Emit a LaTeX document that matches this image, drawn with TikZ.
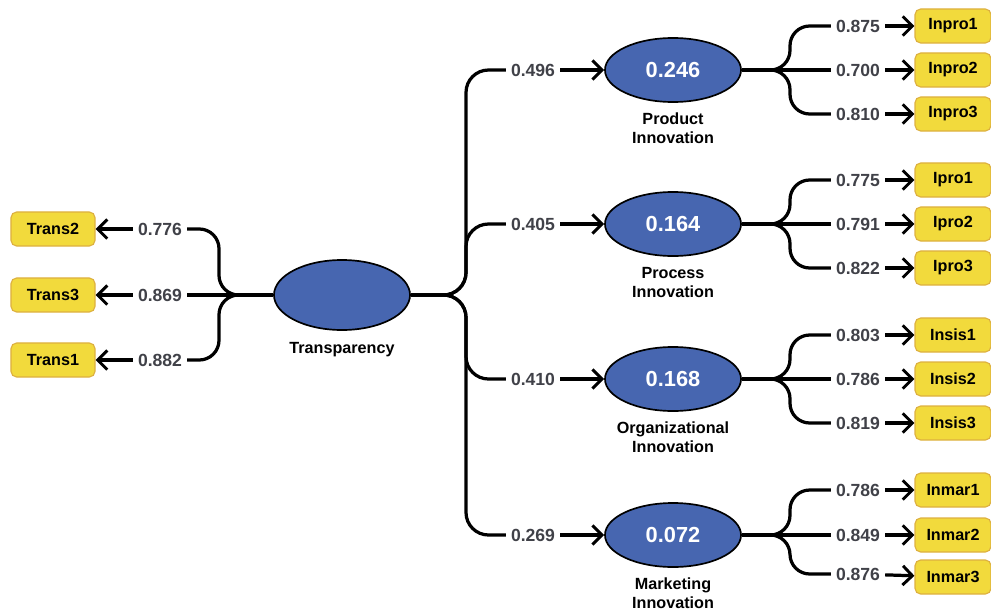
\documentclass[tikz,border=0pt]{standalone}
\usepackage{fontspec}
\setmainfont{Liberation Sans}
\usetikzlibrary{arrows.meta,positioning,shapes.geometric}
\definecolor{latblue}{HTML}{4766B0}
\definecolor{indyellow}{HTML}{F2DA3C}
\definecolor{indedge}{HTML}{DDB040}
\definecolor{loadgray}{HTML}{404148}

\begin{document}
\begin{tikzpicture}[x=0.025cm,y=-0.025cm]
\tikzstyle{latent}=[ellipse, draw=black, line width=1.2pt, fill=latblue, minimum width=3.4cm, minimum height=1.6cm, text=white, font=\bfseries\fontsize{15.5}{15.5}\selectfont]
\tikzstyle{ind}=[rectangle, rounded corners=4pt, draw=indedge, line width=0.8pt, fill=indyellow, minimum width=1.9cm, minimum height=0.85cm, font=\bfseries\fontsize{11.5}{12}\selectfont]
\tikzstyle{load}=[inner sep=3.5pt, text=loadgray, font=\bfseries\fontsize{12.5}{12.5}\selectfont]
\tikzstyle{cname}=[align=center, inner sep=1pt, font=\bfseries\fontsize{11.5}{13.5}\selectfont]
\tikzstyle{wire}=[line width=2.3pt]
\tikzstyle{connect}=[line width=2.3pt, line cap=butt, -{Straight Barb[length=2.4mm,width=4.8mm,line width=2.1pt]}]
  \useasboundingbox (0,0) rectangle (991,611);
  % exogenous construct
  \node[latent, minimum height=1.75cm] (trans) at (342,295) {};
  \node[cname, below=7pt of trans] (transname) {Transparency};
  \node[ind, minimum width=2.1cm] (trans2) at (53,229) {Trans2};
  \node[ind, minimum width=2.1cm] (trans3) at (53,295) {Trans3};
  \node[ind, minimum width=2.1cm] (trans1) at (53,360) {Trans1};
  \node[load] (l776) at (160,229) {0.776};
  \node[load] (l869) at (160,295) {0.869};
  \node[load] (l882) at (160,360) {0.882};
  \coordinate (tj) at (219,295);
  \draw[wire, rounded corners=14] (l776.east) -| (tj) -- (trans.west);
  \draw[wire, rounded corners=14] (l882.east) -| (tj) -- (trans.west);
  \draw[wire] (l869) -- (trans);
  \draw[connect] (l776) -- (trans2);
  \draw[connect] (l869) -- (trans3);
  \draw[connect] (l882) -- (trans1);

  % endogenous constructs
  \node[latent] (prod) at (673,70) {0.246};
  \node[latent] (proc) at (673,224) {0.164};
  \node[latent] (org) at (673,379) {0.168};
  \node[latent] (mkt) at (673,535) {0.072};
  \node[cname, below=6pt of prod] (prodname) {Product\\Innovation};
  \node[cname, below=6pt of proc] (procname) {Process\\Innovation};
  \node[cname, below=6pt of org] (orgname) {Organizational\\Innovation};
  \node[cname, below=6pt of mkt] (mktname) {Marketing\\Innovation};

  % paths
  \node[load] (l496) at (533,70) {0.496};
  \node[load] (l405) at (533,224) {0.405};
  \node[load] (l410) at (533,379) {0.410};
  \node[load] (l269) at (533,535) {0.269};
  \coordinate (rj) at (466,295);
  \draw[wire, rounded corners=16] (trans.east) -- (rj) |- (l496.west);
  \draw[wire, rounded corners=16] (trans.east) -- (rj) |- (l405.west);
  \draw[wire, rounded corners=16] (trans.east) -- (rj) |- (l410.west);
  \draw[wire, rounded corners=16] (trans.east) -- (rj) |- (l269.west);
  \draw[connect] (l496) -- (prod);
  \draw[connect] (l405) -- (proc);
  \draw[connect] (l410) -- (org);
  \draw[connect] (l269) -- (mkt);

  % product innovation indicators
  \node[ind] (inpro1) at (953,26) {Inpro1};
  \node[ind] (inpro2) at (953,70) {Inpro2};
  \node[ind] (inpro3) at (953,114) {Inpro3};
  \node[load] (l875) at (858,26) {0.875};
  \node[load] (l700) at (858,70) {0.700};
  \node[load] (l810) at (858,114) {0.810};
  \coordinate (pj) at (790,70);
  \draw[wire, rounded corners=14] (prod.east) -- (pj) |- (l875.west);
  \draw[wire, rounded corners=14] (prod.east) -- (pj) |- (l810.west);
  \draw[wire] (prod) -- (l700);
  \draw[connect] (l875) -- (inpro1);
  \draw[connect] (l700) -- (inpro2);
  \draw[connect] (l810) -- (inpro3);

  % process innovation indicators
  \node[ind] (ipro1) at (953,180) {Ipro1};
  \node[ind] (ipro2) at (953,224) {Ipro2};
  \node[ind] (ipro3) at (953,268) {Ipro3};
  \node[load] (l775) at (858,180) {0.775};
  \node[load] (l791) at (858,224) {0.791};
  \node[load] (l822) at (858,268) {0.822};
  \coordinate (cj) at (790,224);
  \draw[wire, rounded corners=14] (proc.east) -- (cj) |- (l775.west);
  \draw[wire, rounded corners=14] (proc.east) -- (cj) |- (l822.west);
  \draw[wire] (proc) -- (l791);
  \draw[connect] (l775) -- (ipro1);
  \draw[connect] (l791) -- (ipro2);
  \draw[connect] (l822) -- (ipro3);

  % organizational innovation indicators
  \node[ind] (insis1) at (953,335) {Insis1};
  \node[ind] (insis2) at (953,379) {Insis2};
  \node[ind] (insis3) at (953,423) {Insis3};
  \node[load] (l803) at (858,335) {0.803};
  \node[load] (l786a) at (858,379) {0.786};
  \node[load] (l819) at (858,423) {0.819};
  \coordinate (oj) at (790,379);
  \draw[wire, rounded corners=14] (org.east) -- (oj) |- (l803.west);
  \draw[wire, rounded corners=14] (org.east) -- (oj) |- (l819.west);
  \draw[wire] (org) -- (l786a);
  \draw[connect] (l803) -- (insis1);
  \draw[connect] (l786a) -- (insis2);
  \draw[connect] (l819) -- (insis3);

  % marketing innovation indicators
  \node[ind] (inmar1) at (953,490) {Inmar1};
  \node[ind] (inmar2) at (953,535) {Inmar2};
  \node[ind] (inmar3) at (953,577) {Inmar3};
  \node[load] (l786b) at (858,490) {0.786};
  \node[load] (l849) at (858,535) {0.849};
  \node[load] (l876) at (858,574) {0.876};
  \coordinate (mj) at (790,535);
  \draw[wire, rounded corners=14] (mkt.east) -- (mj) |- (l786b.west);
  \draw[wire, rounded corners=14] (mkt.east) -- (mj) |- (l876.west);
  \draw[wire] (mkt) -- (l849);
  \draw[connect] (l786b) -- (inmar1);
  \draw[connect] (l849) -- (inmar2);
  \draw[connect] (l876) -- (inmar3);
\end{tikzpicture}
\end{document}
